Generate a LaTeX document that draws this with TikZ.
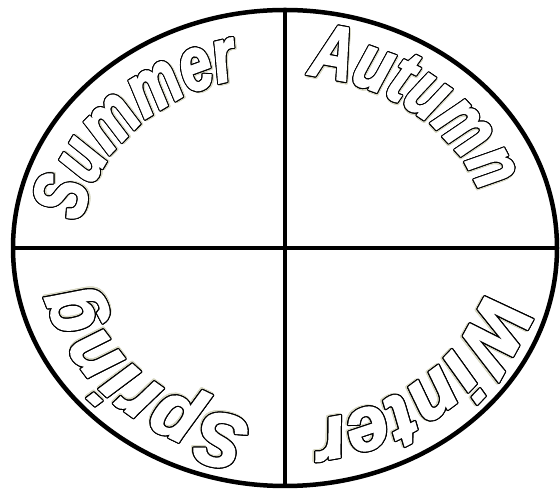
\documentclass[tikz,border=0pt]{standalone}
\usepackage{fontspec}
\usepackage{graphicx}
\usepackage{contour}
\usetikzlibrary{calc,decorations.text}
\newfontfamily\seasonfont{Liberation Sans}[FakeStretch=0.87, FakeBold=2.5]
\definecolor{shade}{RGB}{215,215,195}
\contourlength{1.1pt}
\newcommand{\seasonwidth}{1}
\newcommand{\seasonletter}[1]{{\fontsize{76}{80}\seasonfont\bfseries\itshape
  \scalebox{\seasonwidth}[1]{\rlap{\kern1.2pt\raisebox{-1.2pt}{\contour{shade}{\textcolor{shade}{#1}}}}%
  \contour{black}{\textcolor{white}{#1}}}}}
\tikzset{
  rim/.style={draw=black, line width=4.5pt},
  divider/.style={draw=black, line width=3.2pt},
  season/.style 2 args={/utils/exec={\renewcommand{\seasonwidth}{#2}}, decorate,
    decoration={text effects along path, text={#1}, text align=center,
    text effects/.cd, text along path, character command=\seasonletter}}
}

\begin{document}
\begin{tikzpicture}[x=1pt, y=1pt]
  \useasboundingbox (0,0) rectangle (560,495);
  \coordinate (c) at (285,247);
  \coordinate (top) at (285,485);
  \coordinate (bottom) at (285,9);
  \coordinate (left) at (13,247);
  \coordinate (right) at (557,247);
  \draw[rim] (c) ellipse[x radius=272, y radius=238];
  \draw[divider] (top) -- (bottom);
  \draw[divider] (left) -- (right);
  % words run clockwise, tops to the rim
  \path[season={Summer}{0.86}] ($(c)+(183:206 and 174)$) arc[start angle=183, end angle=93, x radius=206, y radius=174];
  \path[season={Autumn}{0.88}] ($(c)+(95:206 and 174)$) arc[start angle=95, end angle=5, x radius=206, y radius=174];
  \path[season={Winter}{1.12}] ($(c)+(-2:206 and 174)$) arc[start angle=-2, end angle=-92, x radius=206, y radius=174];
  \path[season={Spring}{1.1}] ($(c)+(270:206 and 174)$) arc[start angle=270, end angle=180, x radius=206, y radius=174];
\end{tikzpicture}
\end{document}
